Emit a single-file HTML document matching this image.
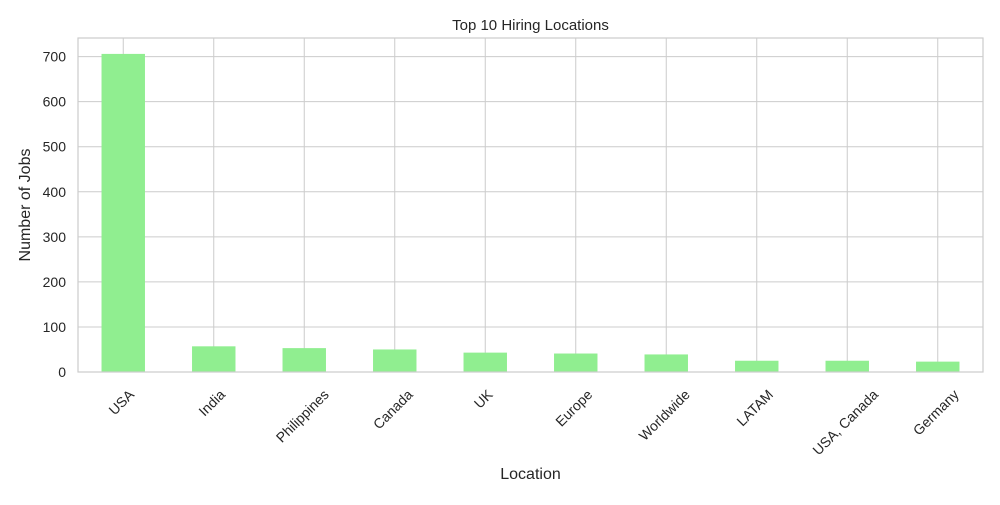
<!DOCTYPE html>
<html><head><meta charset="utf-8"><style>
body{margin:0;background:#fff;font-family:"Liberation Sans","DejaVu Sans",sans-serif}
</style></head><body>
<svg id="chart" width="1000" height="500" xmlns="http://www.w3.org/2000/svg" font-family="Liberation Sans, DejaVu Sans, sans-serif"></svg>
<script>
const categories=["USA","India","Philippines","Canada","UK","Europe","Worldwide","LATAM","USA, Canada","Germany"];
const values=[706,57,53,50,43,41,39,25,25,23];
const yTicks=[0,100,200,300,400,500,600,700];
const svg=document.getElementById('chart');
const NS="http://www.w3.org/2000/svg";
const L=78,R=983,T=38,B=372;
const yMax=Math.max(...values)*1.05;
const band=(R-L)/categories.length;
const x=i=>L+band*(i+0.5);
const y=v=>B-(v/yMax)*(B-T);
function mk(tag,attrs,parent){const e=document.createElementNS(NS,tag);for(const k in attrs)e.setAttribute(k,attrs[k]);(parent||svg).appendChild(e);return e;}
const bg=mk('rect',{x:L,y:T,width:R-L,height:B-T,fill:'#fff'});


yTicks.forEach(t=>{
 const g=mk('line',{x1:L,x2:R,y1:y(t),y2:y(t),stroke:'#cccccc','stroke-width':1});
 
 
 const tx=mk('text',{x:L-12,y:y(t)+5,'text-anchor':'end','font-size':14,fill:'#262626'});
 tx.textContent=t;
 
 
});
categories.forEach((c,i)=>{
 const g=mk('line',{x1:x(i),x2:x(i),y1:T,y2:B,stroke:'#cccccc','stroke-width':1});
 
 
});
categories.forEach((c,i)=>{
 const w=band*0.48;
 const b=mk('rect',{x:x(i)-w/2,y:y(values[i]),width:w,height:B-y(values[i]),fill:'#90ee90'});
 
 
 const tx=mk('text',{x:0,y:0,'text-anchor':'middle','font-size':14,fill:'#262626'});
 tx.textContent=c;
 
 
 const len=tx.getComputedTextLength();
 const h=14;
 const bb=(len+h)*0.7071;
 const cy=B+15+bb/2;
 tx.setAttribute('transform',`translate(${x(i)-2},${cy}) rotate(-45) translate(0,5)`);
});
const fr=mk('rect',{x:L,y:T,width:R-L,height:B-T,fill:'none',stroke:'#cccccc','stroke-width':1.2});


const ti=mk('text',{x:(L+R)/2,y:30,'text-anchor':'middle','font-size':15,fill:'#262626'});
ti.textContent='Top 10 Hiring Locations';


const xl=mk('text',{x:(L+R)/2,y:479,'text-anchor':'middle','font-size':16,fill:'#262626'});
xl.textContent='Location';


const yl=mk('text',{x:0,y:0,'text-anchor':'middle','font-size':16,fill:'#262626',transform:`translate(30,${(T+B)/2}) rotate(-90)`});
yl.textContent='Number of Jobs';


</script>
</body></html>
